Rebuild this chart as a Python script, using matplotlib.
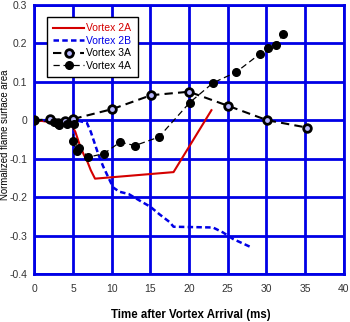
import matplotlib
matplotlib.use("Agg")
import matplotlib.pyplot as plt

# Vortex 2A
t_2a = [0, 1, 2, 3, 4, 4.8, 5.3, 5.8, 6.4, 6.85, 7.3, 7.85, 18.0, 22.9]
v_2a = [0, -0.002, -0.005, -0.008, -0.006, -0.011, -0.03, -0.06, -0.09, -0.107, -0.13, -0.152, -0.135, 0.026]

# Vortex 2B
t_2b = [0, 2, 4, 4.8, 6.8, 7.3, 7.8, 8.3, 8.9, 9.6, 10.2, 11.0, 12.2, 13.7, 15.0, 16.2, 17.5, 18.0, 23.1, 24.4, 25.7, 28.1]
v_2b = [0, 0, 0, 0.003, -0.007, -0.03, -0.06, -0.09, -0.12, -0.15, -0.175, -0.186, -0.192, -0.21, -0.225,
        -0.245, -0.265, -0.277, -0.279, -0.292, -0.309, -0.331]

# Vortex 3A
t_3a = [0, 2, 3, 4, 5, 10.1, 15.1, 20.0, 25.1, 30.1, 35.2]
v_3a = [0, 0.002, -0.008, -0.003, 0.003, 0.029, 0.065, 0.074, 0.037, 0.0, -0.019]

# Vortex 4A
t_4a = [0, 2.5, 3.2, 4.2, 5.1, 5.0, 5.5, 5.8, 7.0, 9.0, 11.1, 13.0, 16.1, 20.1, 23.1, 26.1, 29.2, 30.2, 31.2, 32.2]
v_4a = [0, -0.005, -0.012, -0.01, -0.01, -0.055, -0.08, -0.072, -0.096, -0.087, -0.057, -0.066, -0.044,
        0.046, 0.097, 0.125, 0.173, 0.188, 0.195, 0.223]

x_ticks = [0, 5, 10, 15, 20, 25, 30, 35, 40]
y_ticks = [-0.4, -0.3, -0.2, -0.1, 0, 0.1, 0.2, 0.3]
y_tick_labels = ['-0.4', '-0.3', '-0.2', '-0.1', '0', '0.1', '0.2', '0.3']

plt.rcParams['font.family'] = ['Liberation Sans', 'DejaVu Sans']

fig = plt.figure(figsize=(3.5, 3.22), dpi=100)
ax = fig.add_axes([0.098, 0.149, 0.884, 0.836])

grid_blue = '#0000e6'
ax.set_xlim(0, 40)
ax.set_ylim(-0.4, 0.3)
ax.set_xticks(x_ticks)
ax.set_yticks(y_ticks)
ax.set_xticklabels([str(v) for v in x_ticks])
ax.set_yticklabels(y_tick_labels)
ax.grid(True, color=grid_blue, linewidth=2.0)
ax.set_axisbelow(True)
for s in ax.spines.values():
    s.set_color(grid_blue)
    s.set_linewidth(2.0)
ax.tick_params(length=0, labelsize=7.5, labelcolor='#333333')
ax.tick_params(axis='x', pad=7)
ax.tick_params(axis='y', pad=5)

ax.plot(t_2a, v_2a, color='#d40000', lw=1.5, label='Vortex 2A', zorder=3)
ax.plot(t_2b, v_2b, color='#0000e6', lw=1.8, ls=(0, (2.2, 1.3)), label='Vortex 2B', zorder=3)
ax.plot(t_3a, v_3a, color='black', lw=1.5, ls=(0, (4, 2.5)), marker='o', ms=5.5,
        mfc='#b8b8ff', mec='black', mew=2.0, label='Vortex 3A', zorder=4)
ax.plot(t_4a, v_4a, color='black', lw=0.9, ls=(0, (5, 3)), marker='o', ms=5.5,
        mfc='black', mec='black', label='Vortex 4A', zorder=4)

leg = ax.legend(loc='upper left', bbox_to_anchor=(0.04, 0.955), fontsize=7.5, frameon=True,
                fancybox=False, edgecolor='black', framealpha=1, borderpad=0.6,
                handlelength=3.0, handletextpad=0.2, labelspacing=0.25, borderaxespad=0)
leg.get_frame().set_linewidth(1.0)
leg.set_zorder(10)
for txt, c in zip(leg.get_texts(), ['#d40000', '#0000e6', 'black', 'black']):
    txt.set_color(c)

fig.text(0.545, 1 - 315 / 322, 'Time after Vortex Arrival (ms)', fontsize=8.3, fontweight='bold',
         ha='center', va='center')
ax.set_ylabel('Normalized flame surface area', fontsize=6.9)
ax.yaxis.set_label_coords(-0.078, 0.517)

fig.savefig('out.png', dpi=100)
